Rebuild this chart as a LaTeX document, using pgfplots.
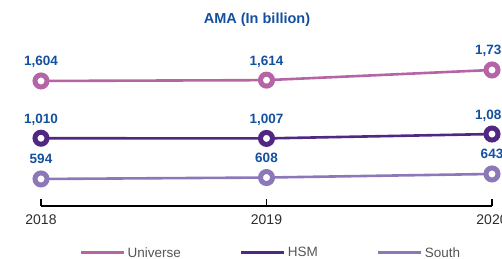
\documentclass[border=0pt]{standalone}
\usepackage{fontspec}
\setmainfont{Liberation Sans}
\usepackage{pgfplots}
\pgfplotsset{compat=1.18}
\definecolor{uni}{RGB}{181,100,165}
\definecolor{hsm}{RGB}{80,40,130}
\definecolor{south}{RGB}{140,120,185}
\definecolor{lbl}{RGB}{20,80,160}
\definecolor{tk}{RGB}{45,45,45}
\definecolor{lg}{RGB}{85,85,85}
\pgfplotsset{
  base/.style={
    at={(41pt,52pt)}, anchor=south west, scale only axis,
    width=451pt, height=166pt, xmin=2018, xmax=2020, clip=false,
  },
  ser/.style={
    base, hide axis,
    point meta=explicit symbolic, nodes near coords,
    every node near coord/.append style={
      font=\bfseries\fontsize{13.5}{15}\selectfont, text=lbl,
      anchor=base, yshift=15pt, inner sep=0pt},
  },
  plt/.style={
    color=#1, line width=2.6pt, mark=*, mark size=6pt,
    mark options={fill=white, draw=#1, line width=5pt, solid},
  },
}
\pgfplotstableread{
year val lab
2018 1604 {1,604}
2019 1614 {1,614}
2020 1735 {1,735}
}\universe
\pgfplotstableread{
year val lab
2018 1010 {1,010}
2019 1007 {1,007}
2020 1085 {1,085}
}\hsm
\pgfplotstableread{
year val lab
2018 594 {594}
2019 608 {608}
2020 643 {643}
}\south
\begin{document}
\begin{tikzpicture}
\path[use as bounding box] (0,0) rectangle (502pt,258pt);
\clip (0,0) rectangle (502pt,258pt);
\node[font=\bfseries\fontsize{14.5}{17}\selectfont, text=lbl] at (257pt,238pt) {AMA (In billion)};
\begin{axis}[base, ymin=0, ymax=1,
  axis x line=bottom, axis y line=none,
  x axis line style={-, line width=1.8pt, black},
  xtick={2018,2019,2020}, xticklabels={2018,2019,2020},
  tick align=inside, major tick length=7pt,
  xtick style={line width=1.8pt, black},
  xticklabel style={font=\fontsize{14}{16}\selectfont, text=tk, yshift=-5pt},
  legend columns=-1,
  legend style={draw=none, fill=none, inner sep=0pt,
    at={(axis description cs:0.085,-0.283)}, anchor=west,
    font=\fontsize{13.5}{15}\selectfont, text=lg,
    /tikz/every even column/.append style={column sep=57pt}},
  legend image code/.code={\draw[line width=3pt] (0pt,0pt) -- (43pt,0pt);},
]
\addlegendimage{uni}
\addlegendentry{Universe}
\addlegendimage{hsm}
\addlegendentry{HSM}
\addlegendimage{south}
\addlegendentry{South}
\end{axis}
\begin{axis}[ser, ymin=115, ymax=2092]
\addplot[plt=uni] table[x=year, y=val, meta=lab] {\universe};
\end{axis}
\begin{axis}[ser, ymin=-200, ymax=2764]
\addplot[plt=hsm] table[x=year, y=val, meta=lab] {\hsm};
\end{axis}
\begin{axis}[ser, ymin=329, ymax=1956]
\addplot[plt=south] table[x=year, y=val, meta=lab] {\south};
\end{axis}
\end{tikzpicture}
\end{document}
